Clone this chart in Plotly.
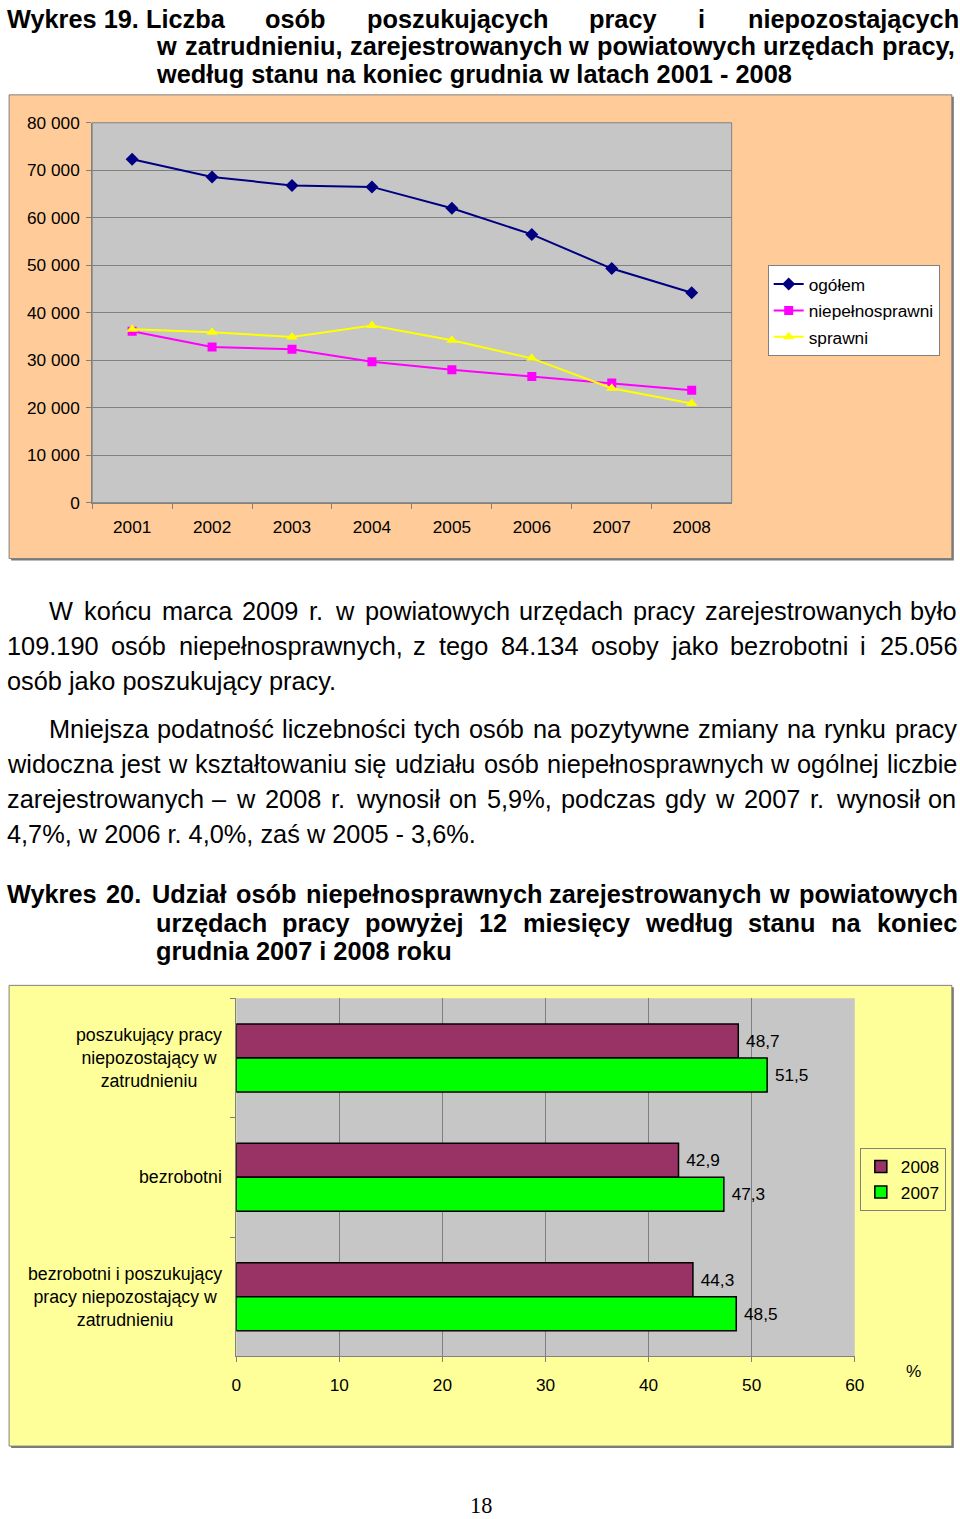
import plotly.graph_objects as go

# The photographed page shows the figure with the browser's body margin and a slight
# downscale; positions below are given in page pixels and converted into figure pixels.
W, H = 960, 1519
OFFX, OFFY = 6, 8
SX, SY = 960 / 976, 1519 / 1535
K = 1 / ((SX + SY) / 2)          # font compensation

# ---------------- data ----------------
years = ["2001", "2002", "2003", "2004", "2005", "2006", "2007", "2008"]
ogolem = [72300, 68600, 66800, 66500, 62000, 56500, 49300, 44200]
niepelnosprawni = [36100, 32800, 32300, 29700, 28000, 26600, 25200, 23700]
sprawni = [36500, 35900, 34900, 37300, 34200, 30400, 24100, 20900]

bar_categories = ["poszukujący", "bezrobotni", "bezrobotni i poszukujący"]
bar_labels = ["poszukujący pracy<br>niepozostający w<br>zatrudnieniu",
              "bezrobotni",
              "bezrobotni i poszukujący<br>pracy niepozostający w<br>zatrudnieniu"]
share_2008 = [48.7, 42.9, 44.3]
share_2007 = [51.5, 47.3, 48.5]

FONT = "Liberation Sans, Arial, sans-serif"


def fx(x):
    return x / SX - OFFX


def fy(y):
    return y / SY - OFFY


def px(x):
    return fx(x) / W


def py(y):
    return 1 - fy(y) / H


def fs(size):
    return round(size * K, 2)


# ---------------- character widths (Arial metrics) ----------------
def build_widths(bold):
    w = {}
    if not bold:
        groups = {556: "abdeghnopquąęóń0123456789–", 500: "ckvsxyzćśźżJ", 222: "ijlł",
                  278: "ft ,.:;!/I", 333: "r-()", 833: "mM", 722: "wCDHNRU",
                  667: "ABEKPSVXY", 778: "GOQ", 611: "FTZ", 556.0: "L", 944: "W", 889: "%"}
    else:
        groups = {556: "aeckvsxyąęćś0123456789–J", 611: "bdghnopquóńFTZL", 500: "zżź",
                  278: "ijlł ,.:;!/I", 333: "ft-()", 389: "r", 889: "m%", 778: "wGOQ",
                  722: "ABCDHKNRU", 667: "EPSVXY", 833: "M", 944: "W"}
    for k, chars in groups.items():
        for c in chars:
            w[c] = float(k)
    return w


WREG = build_widths(False)
WBOLD = build_widths(True)


def text_width(s, size, bold):
    table = WBOLD if bold else WREG
    return sum(table.get(c, 556) for c in s) * size / 1000.0


annotations = []


def add_line(tokens, x0, x1, y, size=25, bold=False, justify=True):
    size_f = fs(size)
    if not justify or len(tokens) == 1:
        s = " ".join(tokens)
        annotations.append(dict(
            xref="paper", yref="paper", x=px(x0), y=py(y), xanchor="left", yanchor="middle",
            text=("<b>%s</b>" % s) if bold else s, showarrow=False, borderpad=0,
            font=dict(family=FONT, size=size_f, color="black")))
        return
    widths = [text_width(t, size_f, bold) for t in tokens]
    a, b = fx(x0), fx(x1)
    gap = (b - a - sum(widths)) / (len(tokens) - 1)
    x = a
    for t, wd in zip(tokens, widths):
        annotations.append(dict(
            xref="paper", yref="paper", x=x / W, y=py(y), xanchor="left", yanchor="middle",
            text=("<b>%s</b>" % t) if bold else t, showarrow=False, borderpad=0,
            font=dict(family=FONT, size=size_f, color="black")))
        x += wd + gap


XL, XR = 7, 955

# Title 1
add_line(["Wykres 19. Liczba", "osób", "poszukujących", "pracy", "i", "niepozostających"], XL, XR, 17, bold=True)
add_line("w zatrudnieniu, zarejestrowanych w powiatowych urzędach pracy,".split(" "), 156, XR, 44, bold=True)
add_line(["według stanu na koniec grudnia w latach 2001 - 2008"], 156, XR, 72, bold=True, justify=False)

# Paragraph 1
add_line("W końcu marca 2009 r. w powiatowych urzędach pracy zarejestrowanych było".split(" "), 49, XR, 611)
add_line("109.190 osób niepełnosprawnych, z tego 84.134 osoby jako bezrobotni i 25.056".split(" "), XL, XR, 646)
add_line(["osób jako poszukujący pracy."], XL, XR, 681, justify=False)

# Paragraph 2
add_line("Mniejsza podatność liczebności tych osób na pozytywne zmiany na rynku pracy".split(" "), 49, XR, 729)
add_line("widoczna jest w kształtowaniu się udziału osób niepełnosprawnych w ogólnej liczbie".split(" "), XL, XR, 764)
add_line("zarejestrowanych – w 2008 r. wynosił on 5,9%, podczas gdy w 2007 r. wynosił on".split(" "), XL, XR, 799)
add_line(["4,7%, w 2006 r. 4,0%, zaś w 2005 - 3,6%."], XL, XR, 834, justify=False)

# Title 2
add_line("Wykres 20. Udział osób niepełnosprawnych zarejestrowanych w powiatowych".split(" "), XL, XR, 894, bold=True)
add_line("urzędach pracy powyżej 12 miesięcy według stanu na koniec".split(" "), 156, XR, 923, bold=True)
add_line(["grudnia 2007 i 2008 roku"], 156, XR, 952, bold=True, justify=False)

# page number
annotations.append(dict(xref="paper", yref="paper", x=px(482), y=py(1508), xanchor="center", yanchor="middle",
                        text="18", showarrow=False,
                        font=dict(family="Liberation Serif, Times New Roman, serif", size=fs(22), color="black")))

# category labels of bar chart
for cat, lab in zip(bar_categories, bar_labels):
    annotations.append(dict(xref="paper", yref="y2", x=px(224), y=cat, xanchor="right", yanchor="middle",
                            align="center", text=lab, showarrow=False, borderpad=0,
                            font=dict(family=FONT, size=fs(17.5), color="black")))
# percent sign
annotations.append(dict(xref="paper", yref="paper", x=px(914), y=py(1373), xanchor="center", yanchor="middle",
                        text="%", showarrow=False, font=dict(family=FONT, size=fs(17), color="black")))

# ---------------- traces ----------------
fig = go.Figure()
fig.add_trace(go.Scatter(x=years, y=ogolem, name="ogółem", mode="lines+markers",
                         line=dict(color="#000080", width=2),
                         marker=dict(symbol="diamond", size=10, color="#000080"),
                         legend="legend", legendgroup="a", xaxis="x", yaxis="y"))
fig.add_trace(go.Scatter(x=years, y=niepelnosprawni, name="niepełnosprawni", mode="lines+markers",
                         line=dict(color="#FF00FF", width=2),
                         marker=dict(symbol="square", size=9, color="#FF00FF"),
                         legend="legend", legendgroup="b", xaxis="x", yaxis="y"))
fig.add_trace(go.Scatter(x=years, y=sprawni, name="sprawni", mode="lines+markers",
                         line=dict(color="#FFFF00", width=2),
                         marker=dict(symbol="triangle-up", size=10, color="#FFFF00"),
                         legend="legend", legendgroup="c", xaxis="x", yaxis="y"))

fig.add_trace(go.Bar(y=bar_categories, x=share_2008, name="2008", orientation="h",
                     marker=dict(color="#993366", line=dict(color="black", width=1.5)),
                     texttemplate="\u00a0%{x:.1f}", textposition="outside", cliponaxis=False,
                     textfont=dict(family=FONT, size=fs(17), color="black"),
                     legend="legend2", xaxis="x2", yaxis="y2"))
fig.add_trace(go.Bar(y=bar_categories, x=share_2007, name="2007", orientation="h",
                     marker=dict(color="#00FF00", line=dict(color="black", width=1.5)),
                     texttemplate="\u00a0%{x:.1f}", textposition="outside", cliponaxis=False,
                     textfont=dict(family=FONT, size=fs(17), color="black"),
                     legend="legend2", xaxis="x2", yaxis="y2"))

# ---------------- shapes (frames, plot areas) ----------------
shapes = [
    dict(type="rect", xref="paper", yref="paper", x0=px(12), x1=px(954), y0=py(560), y1=py(95),
         fillcolor="#7a7a7a", line=dict(width=0), layer="below"),
    dict(type="rect", xref="paper", yref="paper", x0=px(10), x1=px(952), y0=py(558), y1=py(93),
         fillcolor="#FFCC99", line=dict(color="#808080", width=1), layer="below"),
    dict(type="rect", xref="x domain", yref="y domain", x0=0, x1=1, y0=0, y1=1,
         fillcolor="#C6C6C6", line=dict(color="#808080", width=1), layer="below"),
    dict(type="rect", xref="paper", yref="paper", x0=px(12), x1=px(954), y0=py(1450), y1=py(988),
         fillcolor="#7a7a7a", line=dict(width=0), layer="below"),
    dict(type="rect", xref="paper", yref="paper", x0=px(10), x1=px(952), y0=py(1448), y1=py(986),
         fillcolor="#FFFF99", line=dict(color="#808080", width=1), layer="below"),
    dict(type="rect", xref="x2 domain", yref="y2 domain", x0=0, x1=1, y0=0, y1=1,
         fillcolor="#C6C6C6", line=dict(width=0), layer="below"),
]

tickfont = dict(family=FONT, size=fs(17), color="black")

fig.update_layout(
    width=W, height=H,
    margin=dict(l=0, r=0, t=0, b=0),
    paper_bgcolor="white", plot_bgcolor="rgba(0,0,0,0)",
    separators=", ",
    font=dict(family=FONT, size=fs(17), color="black"),
    barmode="group", bargap=0.43, bargroupgap=0,
    xaxis=dict(domain=[px(93), px(732)], anchor="y", type="category", range=[-0.5, 7.5],
               tickson="boundaries", ticks="outside", ticklen=5, tickcolor="#808080",
               showline=True, linecolor="#808080", showgrid=False, tickfont=tickfont,
               ticklabelstandoff=9, fixedrange=True),
    yaxis=dict(domain=[py(502), py(121)], anchor="x", range=[0, 80000], dtick=10000,
               tickformat=",d", ticks="outside", ticklen=5, tickcolor="#808080",
               showline=True, linecolor="#808080", showgrid=True, gridcolor="#808080", gridwidth=1,
               zeroline=False, tickfont=tickfont, ticklabelstandoff=3, fixedrange=True),
    xaxis2=dict(domain=[px(237), px(855)], anchor="y2", range=[0, 60], dtick=10,
                ticks="outside", ticklen=5, tickcolor="#808080",
                showline=True, linecolor="#808080", showgrid=True, gridcolor="#808080", gridwidth=1,
                zeroline=False, tickfont=tickfont, ticklabelstandoff=8, fixedrange=True),
    yaxis2=dict(domain=[py(1358), py(999)], anchor="x2", type="category", range=[2.5, -0.5],
                tickson="boundaries", ticks="outside", ticklen=5, tickcolor="#808080",
                showline=True, linecolor="#808080", showgrid=False, showticklabels=False,
                fixedrange=True),
    legend=dict(x=px(768), y=py(264), xanchor="left", yanchor="top", bgcolor="white",
                bordercolor="#808080", borderwidth=1, font=dict(family=FONT, size=fs(17), color="black"),
                tracegroupgap=1, itemwidth=30),
    legend2=dict(x=px(946), y=py(1149), xanchor="right", yanchor="top", bgcolor="#FFFF99",
                 bordercolor="#808080", borderwidth=1, font=dict(family=FONT, size=fs(17), color="black"),
                 itemwidth=30),
    shapes=shapes,
    annotations=annotations,
    showlegend=True,
)

fig.write_html("out.html")
